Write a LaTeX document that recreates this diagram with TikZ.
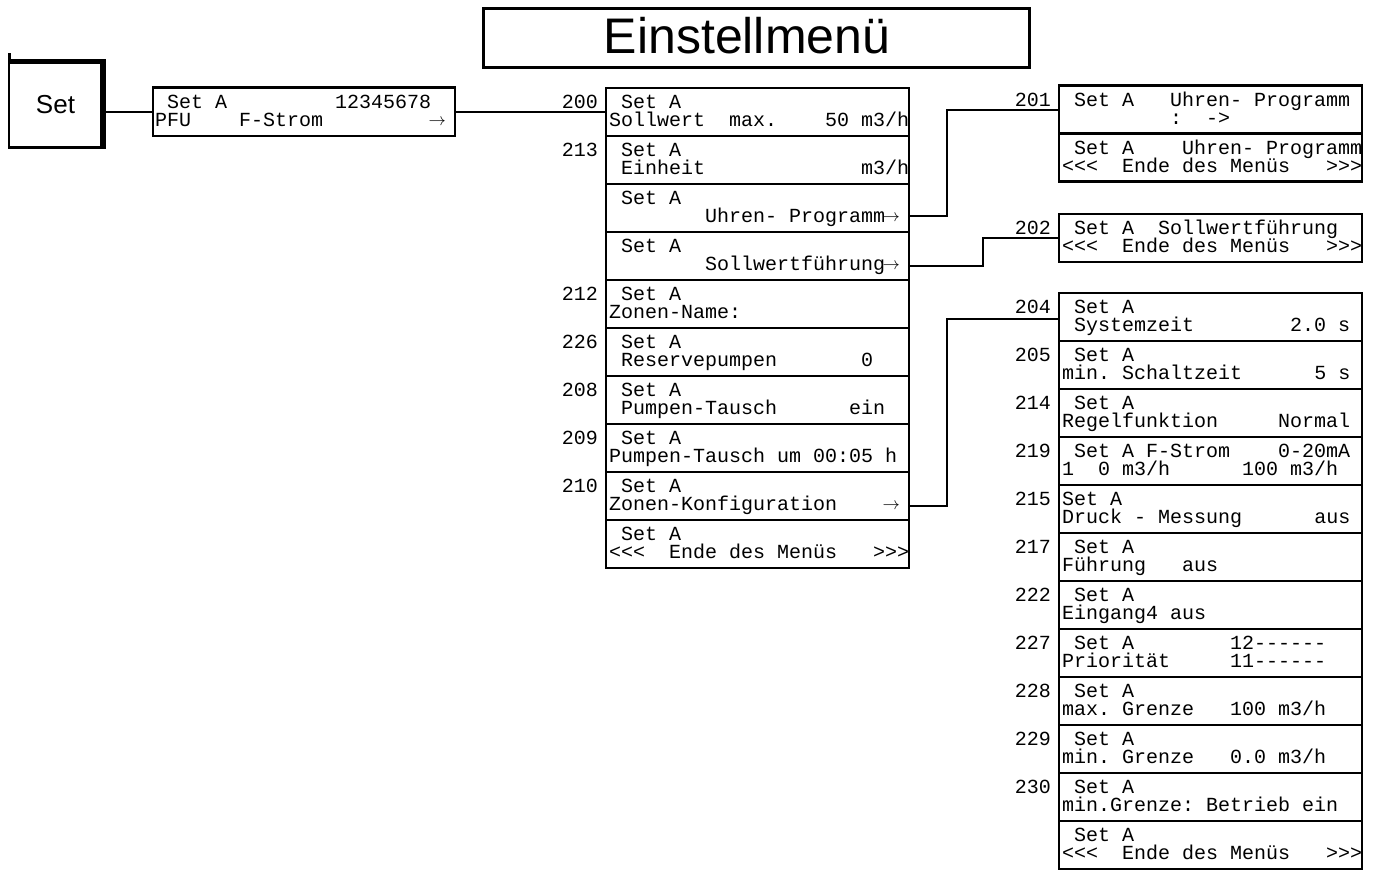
\documentclass[tikz,border=0pt]{standalone}
\usepackage{fontspec}
\newfontfamily\mono{Liberation Mono}[Ligatures=TeXOff]
\newfontfamily\arial{Liberation Sans}
\usetikzlibrary{calc}
\newcommand\arr{\makebox[12pt][c]{\raisebox{1.5pt}{\fontsize{17}{17}\selectfont$\rightarrow$}}}
\tikzset{
  rowbox/.style={draw, line width=2.2pt, minimum width=303pt, minimum height=48pt, anchor=north west, inner sep=0pt, outer sep=0pt},
  txt/.style={anchor=base west, inner sep=0pt, font=\mono\fontsize{20}{20}\selectfont},
  lbl/.style={anchor=base east, inner sep=0pt, font=\mono\fontsize{20}{20}\selectfont},
  conn/.style={line width=2pt},
}
\newcommand\mrow[6]{%
  \node[rowbox] (#1) at (#2,#3) {};
  \node[txt] (#1a) at ($(#1.north west)+(3,20.5)$) {#5};
  \node[txt] (#1b) at ($(#1.north west)+(3,38.5)$) {#6};
  \ifx&#4&\else\node[lbl] (#1l) at ($(#1.north west)+(-8,20.5)$) {#4};\fi
}
\begin{document}
\begin{tikzpicture}[x=1pt,y=-1pt]
\useasboundingbox (0,0) rectangle (1374,870);
% title
\node[draw, line width=3pt, minimum width=546pt, minimum height=59pt, inner sep=0pt, outer sep=0pt] (title) at (756.5,38) {};
\node[anchor=base, inner sep=0pt, font=\arial\fontsize{50}{50}\selectfont] (titletext) at (747,53.5) {Einstellmenü};
% Set box
\node[draw, line width=2.5pt, minimum width=94pt, minimum height=86pt, inner sep=0pt, outer sep=0pt] (setbox) at (56,104.5) {};
\fill (8.3,59.3) rectangle (106,64);
\fill (100,59.3) rectangle (106,149);
\draw[line width=2.5pt] (9.5,53) -- (9.5,62);
\node[anchor=base, inner sep=0pt, font=\arial\fontsize{26}{26}\selectfont] (settext) at (55.5,113.3) {Set};
% PFU box
\node[rowbox, minimum width=302pt, minimum height=48.5pt] (pfu) at (153,87.5) {};
\node[txt] (pfua) at ($(pfu.north west)+(2,21)$) {~Set~A~~~~~~~~~12345678};
\node[txt] (pfub) at ($(pfu.north west)+(2,39)$) {PFU~~~~F-Strom~~~~~~~~~\arr};
% middle column
\mrow{m200}{606}{88}{200}{~Set~A}{Sollwert~~max.~~~~50~m3/h}
\mrow{m213}{606}{136}{213}{~Set~A}{~Einheit~~~~~~~~~~~~~m3/h}
\mrow{mUhr}{606}{184}{}{~Set~A}{~~~~~~~~Uhren-~Programm\arr}
\mrow{mSoll}{606}{232}{}{~Set~A}{~~~~~~~~Sollwertführung\arr}
\mrow{m212}{606}{280}{212}{~Set~A}{Zonen-Name:}
\mrow{m226}{606}{328}{226}{~Set~A}{~Reservepumpen~~~~~~~0}
\mrow{m208}{606}{376}{208}{~Set~A}{~Pumpen-Tausch~~~~~~ein}
\mrow{m209}{606}{424}{209}{~Set~A}{Pumpen-Tausch~um~00:05~h}
\mrow{m210}{606}{472}{210}{~Set~A}{Zonen-Konfiguration~~~~\arr}
\mrow{mEnd}{606}{520}{}{~Set~A}{<<<~~Ende~des~Menüs~~~>>>}
% right column: 201
\mrow{rA}{1059}{85.5}{201}{~Set~A~~~Uhren-~Programm}{~~~~~~~~~:~~->}
\mrow{rB}{1059}{133.5}{}{~Set~A~~~~Uhren-~Programm}{<<<~~Ende~des~Menüs~~~>>>}
% 202
\mrow{rC}{1059}{214}{202}{~Set~A~~Sollwertführung}{<<<~~Ende~des~Menüs~~~>>>}
% 204 column
\mrow{r204}{1059}{293}{204}{~Set~A}{~Systemzeit~~~~~~~~2.0~s}
\mrow{r205}{1059}{341}{205}{~Set~A}{min.~Schaltzeit~~~~~~5~s}
\mrow{r214}{1059}{389}{214}{~Set~A}{Regelfunktion~~~~~Normal}
\mrow{r219}{1059}{437}{219}{~Set~A~F-Strom~~~~0-20mA}{1~~0~m3/h~~~~~~100~m3/h}
\mrow{r215}{1059}{485}{215}{Set~A}{Druck~-~Messung~~~~~~aus}
\mrow{r217}{1059}{533}{217}{~Set~A}{Führung~~~aus}
\mrow{r222}{1059}{581}{222}{~Set~A}{Eingang4~aus}
\mrow{r227}{1059}{629}{227}{~Set~A~~~~~~~~12------}{Priorität~~~~~11------}
\mrow{r228}{1059}{677}{228}{~Set~A}{max.~Grenze~~~100~m3/h}
\mrow{r229}{1059}{725}{229}{~Set~A}{min.~Grenze~~~0.0~m3/h}
\mrow{r230}{1059}{773}{230}{~Set~A}{min.Grenze:~Betrieb~ein}
\mrow{rEnd}{1059}{821}{}{~Set~A}{<<<~~Ende~des~Menüs~~~>>>}
% connectors
\draw[conn] (setbox.east |- pfu.west) -- (pfu.west);
\draw[conn] (pfu.east) -- (pfu.east -| m200.west);
\draw[conn] ([yshift=-8pt]mUhr.east) -- ++(38,0) |- (rA.west);
\draw[conn] ([yshift=-9.5pt]mSoll.east) -- ++(74,0) |- (rC.west);
\draw[conn] ([yshift=-10pt]m210.east) -- ++(38,0) |- ([yshift=-2pt]r204.west);
\end{tikzpicture}
\end{document}
